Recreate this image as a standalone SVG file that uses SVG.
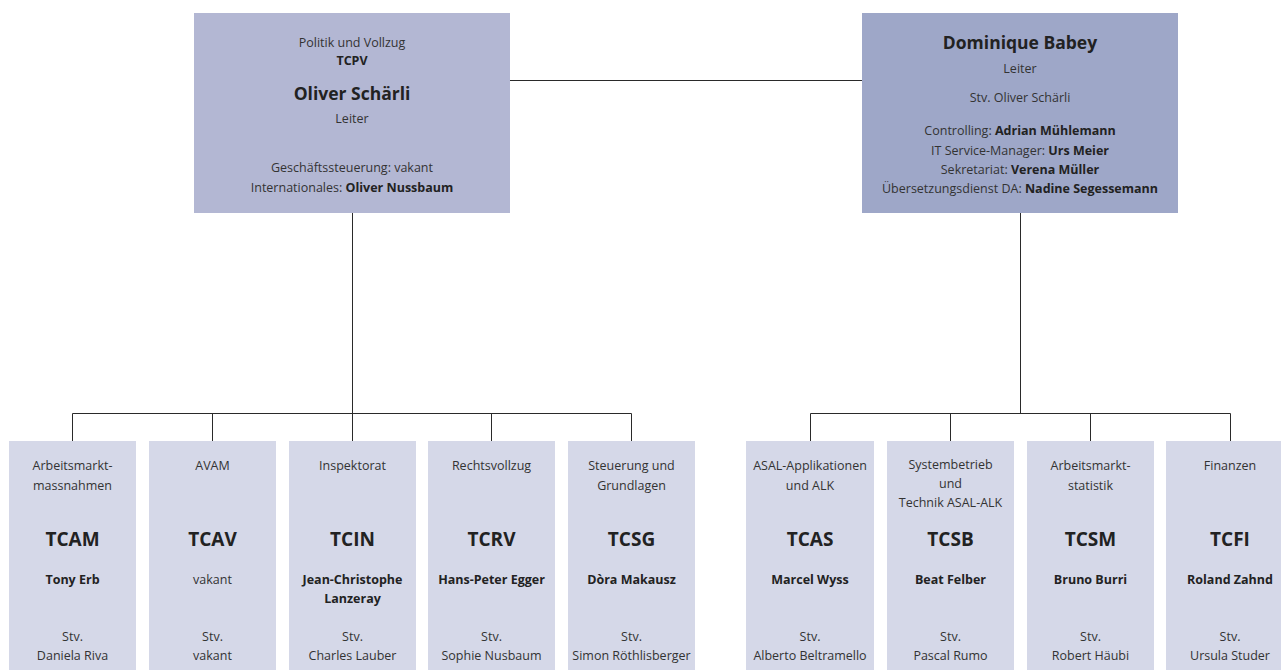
<svg xmlns="http://www.w3.org/2000/svg" width="1281" height="670" viewBox="0 0 1281 670">
<style>
text{font-family:"Open Sans","Noto Sans","Liberation Sans",sans-serif;font-size:12.5px;fill:#333;text-anchor:middle}
.b{font-weight:bold;fill:#222}
.big{font-size:17.5px;font-weight:bold;fill:#222}
.code{font-size:19px;font-weight:bold;fill:#222}
.top1{fill:#b3b7d3}
.top2{fill:#9ea7c8}
.unit{fill:#d5d8e8}
.ln{stroke:#2a2a2a;stroke-width:1;fill:none}
</style>
<g id="connectors">
<path class="ln" d="M510 80.5H862"/>
<path class="ln" d="M352.5 213V413.5M72.5 413.5H631.5M72.5 413.5V441M212.5 413.5V441M352.5 413.5V441M491.5 413.5V441M631.5 413.5V441"/>
<path class="ln" d="M1020.5 213V413.5M810.5 413.5H1230.5M810.5 413.5V441M950.5 413.5V441M1090.5 413.5V441M1230.5 413.5V441"/>
</g>
<g id="tcpv">
<rect class="top1" x="194" y="13" width="316" height="200"/>
<text x="352" y="47">Politik und Vollzug</text>
<text x="352" y="65" class="b">TCPV</text>
<text x="352" y="100" class="big">Oliver Schärli</text>
<text x="352" y="123">Leiter</text>
<text x="352" y="172">Geschäftssteuerung: vakant</text>
<text x="352" y="192">Internationales: <tspan class="b">Oliver Nussbaum</tspan></text>
</g>
<g id="leitung">
<rect class="top2" x="862" y="13" width="316" height="200"/>
<text x="1020" y="49" class="big">Dominique Babey</text>
<text x="1020" y="73">Leiter</text>
<text x="1020" y="102">Stv. Oliver Schärli</text>
<text x="1020" y="135">Controlling: <tspan class="b">Adrian Mühlemann</tspan></text>
<text x="1020" y="155">IT Service-Manager: <tspan class="b">Urs Meier</tspan></text>
<text x="1020" y="174">Sekretariat: <tspan class="b">Verena Müller</tspan></text>
<text x="1020" y="193">Übersetzungsdienst DA: <tspan class="b">Nadine Segessemann</tspan></text>
</g>
<g id="tcam">
<rect class="unit" x="9" y="441" width="127" height="229"/>
<text x="72.5" y="470">Arbeitsmarkt-</text>
<text x="72.5" y="490">massnahmen</text>
<text x="72.5" y="546" class="code">TCAM</text>
<text x="72.5" y="584" class="b">Tony Erb</text>
<text x="72.5" y="641">Stv.</text>
<text x="72.5" y="660">Daniela Riva</text>
</g>
<g id="tcav">
<rect class="unit" x="149" y="441" width="127" height="229"/>
<text x="212.5" y="470">AVAM</text>
<text x="212.5" y="546" class="code">TCAV</text>
<text x="212.5" y="584">vakant</text>
<text x="212.5" y="641">Stv.</text>
<text x="212.5" y="660">vakant</text>
</g>
<g id="tcin">
<rect class="unit" x="289" y="441" width="127" height="229"/>
<text x="352.5" y="470">Inspektorat</text>
<text x="352.5" y="546" class="code">TCIN</text>
<text x="352.5" y="584" class="b">Jean-Christophe</text>
<text x="352.5" y="603" class="b">Lanzeray</text>
<text x="352.5" y="641">Stv.</text>
<text x="352.5" y="660">Charles Lauber</text>
</g>
<g id="tcrv">
<rect class="unit" x="428" y="441" width="127" height="229"/>
<text x="491.5" y="470">Rechtsvollzug</text>
<text x="491.5" y="546" class="code">TCRV</text>
<text x="491.5" y="584" class="b">Hans-Peter Egger</text>
<text x="491.5" y="641">Stv.</text>
<text x="491.5" y="660">Sophie Nusbaum</text>
</g>
<g id="tcsg">
<rect class="unit" x="568" y="441" width="127" height="229"/>
<text x="631.5" y="470">Steuerung und</text>
<text x="631.5" y="490">Grundlagen</text>
<text x="631.5" y="546" class="code">TCSG</text>
<text x="631.5" y="584" class="b">Dòra Makausz</text>
<text x="631.5" y="641">Stv.</text>
<text x="631.5" y="660">Simon Röthlisberger</text>
</g>
<g id="tcas">
<rect class="unit" x="746" y="441" width="128" height="229"/>
<text x="810" y="470">ASAL-Applikationen</text>
<text x="810" y="490">und ALK</text>
<text x="810" y="546" class="code">TCAS</text>
<text x="810" y="584" class="b">Marcel Wyss</text>
<text x="810" y="641">Stv.</text>
<text x="810" y="660">Alberto Beltramello</text>
</g>
<g id="tcsb">
<rect class="unit" x="887" y="441" width="127" height="229"/>
<text x="950.5" y="469">Systembetrieb</text>
<text x="950.5" y="488">und</text>
<text x="950.5" y="507">Technik ASAL-ALK</text>
<text x="950.5" y="546" class="code">TCSB</text>
<text x="950.5" y="584" class="b">Beat Felber</text>
<text x="950.5" y="641">Stv.</text>
<text x="950.5" y="660">Pascal Rumo</text>
</g>
<g id="tcsm">
<rect class="unit" x="1027" y="441" width="127" height="229"/>
<text x="1090.5" y="470">Arbeitsmarkt-</text>
<text x="1090.5" y="490">statistik</text>
<text x="1090.5" y="546" class="code">TCSM</text>
<text x="1090.5" y="584" class="b">Bruno Burri</text>
<text x="1090.5" y="641">Stv.</text>
<text x="1090.5" y="660">Robert Häubi</text>
</g>
<g id="tcfi">
<rect class="unit" x="1166" y="441" width="128" height="229"/>
<text x="1230" y="470">Finanzen</text>
<text x="1230" y="546" class="code">TCFI</text>
<text x="1230" y="584" class="b">Roland Zahnd</text>
<text x="1230" y="641">Stv.</text>
<text x="1230" y="660">Ursula Studer</text>
</g>
</svg>
